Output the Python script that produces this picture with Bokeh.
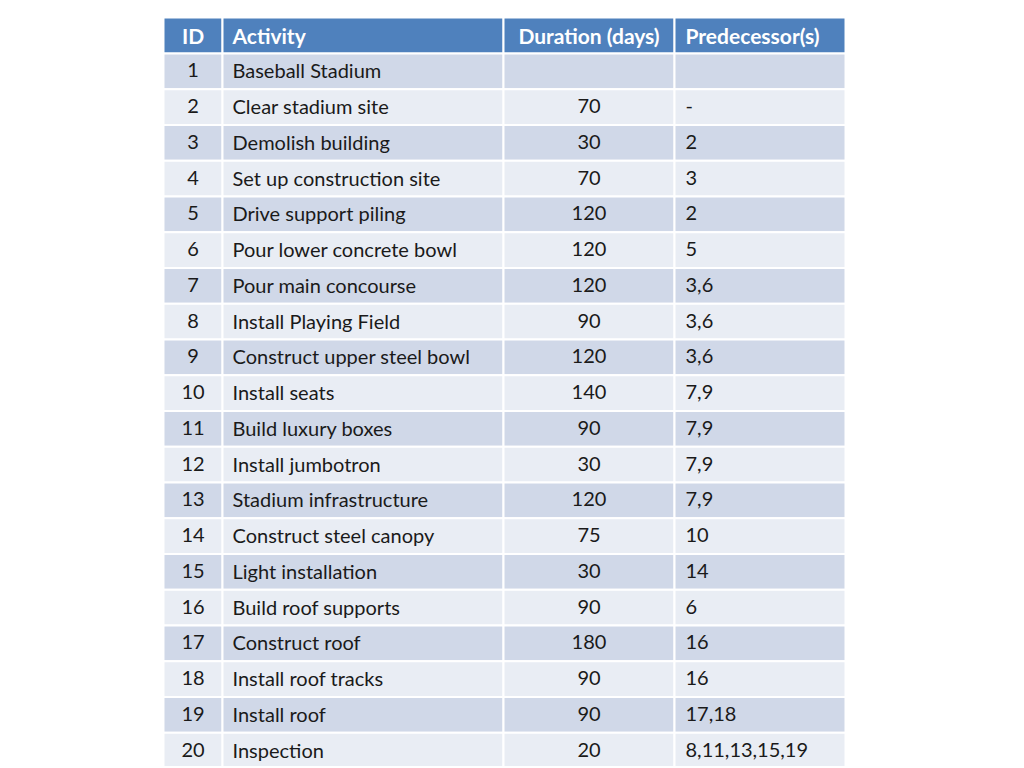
from bokeh.plotting import figure
from bokeh.models import Range1d, ColumnDataSource
from bokeh.core.properties import value
from bokeh.embed import file_html
from bokeh.resources import INLINE

# ---- data ----
ids = [str(i) for i in range(1, 21)]
activities = ["Baseball Stadium", "Clear stadium site", "Demolish building",
              "Set up construction site", "Drive support piling",
              "Pour lower concrete bowl", "Pour main concourse",
              "Install Playing Field", "Construct upper steel bowl",
              "Install seats", "Build luxury boxes", "Install jumbotron",
              "Stadium infrastructure", "Construct steel canopy",
              "Light installation", "Build roof supports", "Construct roof",
              "Install roof tracks", "Install roof", "Inspection"]
durations = ["", "70", "30", "70", "120", "120", "120", "90", "120", "140",
             "90", "30", "120", "75", "30", "90", "180", "90", "90", "20"]
predecessors = ["", "-", "2", "3", "2", "5", "3,6", "3,6", "3,6", "7,9",
                "7,9", "7,9", "7,9", "10", "14", "6", "16", "16", "17,18",
                "8,11,13,15,19"]
headers = ["ID", "Activity", "Duration (days)", "Predecessor(s)"]

# ---- layout (page-pixel coordinates) ----
W, H = 1008, 766
col_edges = [163, 222, 503, 674, 845]
header_top, header_bot = 17, 53
row_h = 35.75
FONT = "Lato"
FS = "20px"
HFS = "21px"

p = figure(width=W, height=H, output_backend="svg", toolbar_location=None,
           x_range=Range1d(0, W), y_range=Range1d(H, 0),
           min_border=0, outline_line_color=None)
p.axis.visible = False
p.grid.visible = False
p.background_fill_color = "white"
p.border_fill_color = "white"

# header cells
p.quad(left=col_edges[:-1], right=col_edges[1:],
       top=[header_top] * 4, bottom=[header_bot] * 4,
       fill_color="#4F81BD", line_color="white", line_width=2)

# body cells
L, R, T, B, C = [], [], [], [], []
n = len(ids)
for i in range(n):
    top = header_bot + i * row_h
    for c in range(4):
        L.append(col_edges[c]); R.append(col_edges[c + 1])
        T.append(top); B.append(top + row_h)
        C.append("#D0D8E8" if i % 2 == 0 else "#E9EDF4")
p.quad(left=L, right=R, top=T, bottom=B, fill_color=C,
       line_color="white", line_width=2)

# header text
hx = [(col_edges[0] + col_edges[1]) / 2, col_edges[1] + 10,
      (col_edges[2] + col_edges[3]) / 2, col_edges[3] + 11]
halign = ["center", "left", "center", "left"]
hy = (header_top + header_bot) / 2
for t, x, a in zip(headers, hx, halign):
    p.text(x=[x], y=[hy], text=[t], text_font=value(FONT), text_font_size=HFS,
           text_font_style="bold", text_color="white", text_align=a,
           text_baseline="middle")

ys = [header_bot + (i + 0.5) * row_h - 1 for i in range(n)]
cols = [ids, activities, durations, predecessors]
for vals, x, a in zip(cols, hx, halign):
    src = ColumnDataSource(dict(x=[x] * n, y=ys, t=vals))
    p.text(x="x", y="y", text="t", source=src, text_font=value(FONT),
           text_font_size=FS, text_color="#1a1a1a", text_align=a,
           text_baseline="middle")

open("out.html", "w").write(file_html(p, INLINE))
